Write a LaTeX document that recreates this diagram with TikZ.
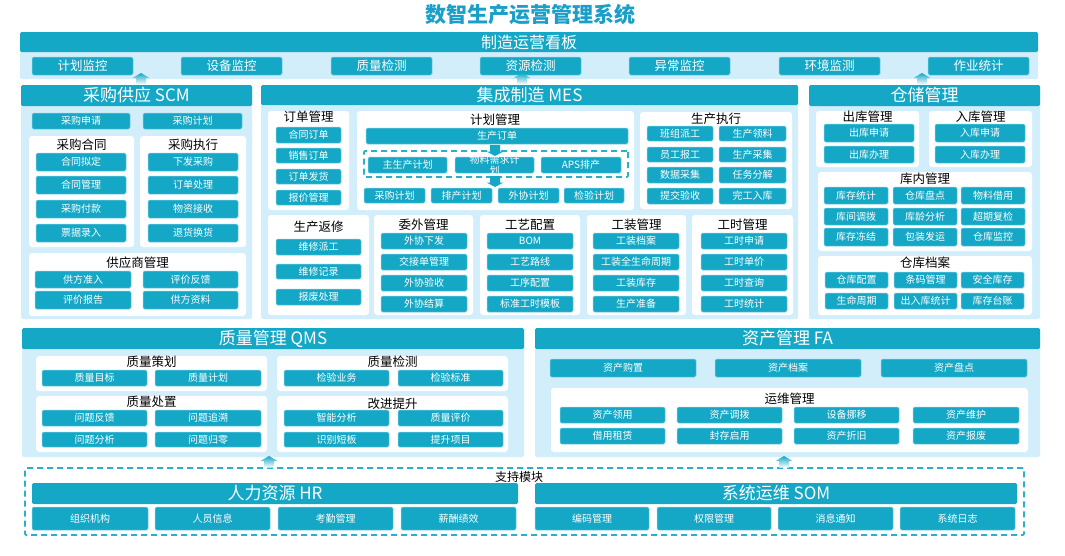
\documentclass[tikz,border=0pt]{standalone}
\usepackage{fontspec}
\setmainfont{Noto Sans CJK SC}
\definecolor{teal1}{HTML}{14A8C6}
\definecolor{lightbg}{HTML}{D3EEFB}
\definecolor{titlec}{HTML}{1B9FC9}
\definecolor{dashc}{HTML}{2BB0CC}
\tikzset{
  btn/.style={fill=teal1, draw=teal1!55!white, line width=0.5pt, rounded corners=1.5pt, text=white, font=\fontsize{10}{11}\selectfont, inner sep=0pt},
  tbtn/.style={btn, font=\fontsize{12.5}{13}\selectfont},
  panel/.style={fill=lightbg, rounded corners=2pt, inner sep=0pt},
  card/.style={fill=white, rounded corners=3pt, inner sep=0pt},
  hdr/.style={fill=teal1, text=white, font=\fontsize{17}{18}\selectfont, inner sep=0pt, rounded corners=1.5pt},
  ttl/.style={font=\fontsize{12.5}{13}\selectfont, text=black, inner sep=0pt},
  dashbox/.style={draw=dashc, line width=1.6pt, dash pattern=on 6pt off 4pt, inner sep=0pt, rounded corners=1pt},
  plain/.style={inner sep=0pt}
}
\newcommand\rbox[7]{\node[#1,minimum width={(#4-#2)*1pt},minimum height={(#5-#3)*1pt}] (#6) at ({(#2+#4)/2},{(#3+#5)/2}) {#7};}
% gradient up arrow: x, tip y
\newcommand\uparr[2]{\shade[top color=teal1,bottom color=white] (#1,#2) -- ++(8.5,5) -- ++(-3.5,0) -- ++(0,6.5) -- ++(-10,0) -- ++(0,-6.5) -- ++(-3.5,0) -- cycle;}
% solid down arrow: x, tip y
\newcommand\downarr[2]{\fill[teal1] (#1,#2) -- ++(8.5,-4.5) -- ++(-3.5,0) -- ++(0,-6.5) -- ++(-10,0) -- ++(0,6.5) -- ++(-3.5,0) -- cycle;}
\begin{document}
\begin{tikzpicture}[x=1pt,y=-1pt]
\useasboundingbox (0,0) rectangle (1065,555);
\fill[white] (0,0) rectangle (1065,555);

% title
\node[font=\fontsize{21}{22}\selectfont\bfseries,text=titlec,inner sep=0pt] (title) at (530,15) {数智生产运营管理系统};

% ===== top board =====
\rbox{panel}{20}{32}{1038}{79}{topP}{}
\rbox{hdr,font=\fontsize{16}{17}\selectfont}{20}{32}{1038}{52}{topH}{制造运营看板}
\rbox{tbtn}{32}{57}{133}{75}{k1}{计划监控}
\rbox{tbtn}{181}{57}{282}{75}{k2}{设备监控}
\rbox{tbtn}{331}{57}{432}{75}{k3}{质量检测}
\rbox{tbtn}{480}{57}{581}{75}{k4}{资源检测}
\rbox{tbtn}{629}{57}{730}{75}{k5}{异常监控}
\rbox{tbtn}{779}{57}{880}{75}{k6}{环境监测}
\rbox{tbtn}{928}{57}{1029}{75}{k7}{作业统计}

% ===== SCM =====
\rbox{panel}{21}{85}{252}{319}{scmP}{}
\rbox{hdr}{21}{85}{252}{106}{scmH}{采购供应 SCM}
\rbox{btn}{32}{113}{130}{129}{s1}{采购申请}
\rbox{btn}{143}{113}{242}{129}{s2}{采购计划}
\rbox{card}{29}{136}{134}{247}{scmC1}{}
\node[ttl] (scmT1) at (81.5,145) {采购合同};
\rbox{btn}{36}{153}{126}{171}{s3}{合同拟定}
\rbox{btn}{36}{176}{126}{194}{s4}{合同管理}
\rbox{btn}{36}{200}{126}{218}{s5}{采购付款}
\rbox{btn}{36}{224}{126}{242}{s6}{票据录入}
\rbox{card}{140}{136}{246}{247}{scmC2}{}
\node[ttl] (scmT2) at (193,145) {采购执行};
\rbox{btn}{148}{153}{238}{171}{s7}{下发采购}
\rbox{btn}{148}{176}{238}{194}{s8}{订单处理}
\rbox{btn}{148}{200}{238}{218}{s9}{物资接收}
\rbox{btn}{148}{224}{238}{242}{s10}{退货换货}
\rbox{card}{29}{253}{246}{316}{scmC3}{}
\node[ttl] (scmT3) at (137.5,263) {供应商管理};
\rbox{btn}{35}{271}{131}{288}{s11}{供方准入}
\rbox{btn}{143}{271}{238}{288}{s12}{评价反馈}
\rbox{btn}{35}{291}{131}{309}{s13}{评价报告}
\rbox{btn}{143}{291}{238}{309}{s14}{供方资料}

% ===== MES =====
\rbox{panel}{261}{85}{798}{319}{mesP}{}
\rbox{hdr}{261}{85}{798}{105}{mesH}{集成制造 MES}
% order
\rbox{card}{268}{111}{349}{210}{mesC1}{}
\node[ttl] (mesT1) at (308.5,117) {订单管理};
\rbox{btn}{276}{127}{341}{143}{m1}{合同订单}
\rbox{btn}{276}{148}{341}{163}{m2}{销售订单}
\rbox{btn}{276}{169}{341}{184}{m3}{订单发货}
\rbox{btn}{276}{190}{341}{205}{m4}{报价管理}
% plan
\rbox{card}{357}{111}{634}{210}{mesC2}{}
\node[ttl] (mesT2) at (495,120) {计划管理};
\rbox{btn}{366}{128}{628}{144}{po}{生产订单}
\rbox{dashbox}{364}{151}{628}{177}{planD}{}
\rbox{btn}{368}{157}{447}{173}{m5}{主生产计划}
\rbox{btn}{455}{157}{534}{173}{m6}{}
\node[plain,text=white,align=center,font=\fontsize{10}{10.5}\selectfont] (m6t) at (m6.center) {物料需求计\\划};
\rbox{btn}{541}{157}{621}{173}{m7}{APS排产}
\downarr{495}{156}
\downarr{495}{187}
\rbox{btn}{364}{188}{425}{203}{m8}{采购计划}
\rbox{btn}{431}{188}{492}{203}{m9}{排产计划}
\rbox{btn}{498}{188}{559}{203}{m10}{外协计划}
\rbox{btn}{564}{188}{624}{203}{m11}{检验计划}
% exec
\rbox{card}{640}{112}{792}{209}{mesC3}{}
\node[ttl] (mesT3) at (716,119) {生产执行};
\rbox{btn}{647}{126}{713}{141}{m12}{班组派工}
\rbox{btn}{719}{126}{786}{141}{m13}{生产领料}
\rbox{btn}{647}{147}{713}{162}{m14}{员工报工}
\rbox{btn}{719}{147}{786}{162}{m15}{生产采集}
\rbox{btn}{647}{167}{713}{183}{m16}{数据采集}
\rbox{btn}{719}{167}{786}{183}{m17}{任务分解}
\rbox{btn}{647}{188}{713}{204}{m18}{提交验收}
\rbox{btn}{719}{188}{786}{204}{m19}{完工入库}
% repair
\rbox{card}{268}{215}{369}{315}{mesC4}{}
\node[ttl] (mesT4) at (318.5,227) {生产返修};
\rbox{btn}{276}{239}{361}{255}{m20}{维修派工}
\rbox{btn}{276}{264}{361}{279}{m21}{维修记录}
\rbox{btn}{276}{289}{361}{305}{m22}{报废处理}
% outsource
\rbox{card}{374}{215}{473}{315}{mesC5}{}
\node[ttl] (mesT5) at (423.5,225) {委外管理};
\rbox{btn}{381}{233}{467}{249}{m23}{外协下发}
\rbox{btn}{381}{254}{467}{270}{m24}{交接单管理}
\rbox{btn}{381}{275}{467}{291}{m25}{外协验收}
\rbox{btn}{381}{296}{467}{312}{m26}{外协结算}
% process
\rbox{card}{480}{215}{580}{315}{mesC6}{}
\node[ttl] (mesT6) at (530,225) {工艺配置};
\rbox{btn}{487}{233}{573}{249}{m27}{BOM}
\rbox{btn}{487}{254}{573}{270}{m28}{工艺路线}
\rbox{btn}{487}{275}{573}{291}{m29}{工序配置}
\rbox{btn}{487}{296}{573}{312}{m30}{标准工时模板}
% tooling
\rbox{card}{587}{215}{686}{315}{mesC7}{}
\node[ttl] (mesT7) at (636.5,225) {工装管理};
\rbox{btn}{593}{233}{679}{249}{m31}{工装档案}
\rbox{btn}{593}{254}{679}{270}{m32}{工装全生命周期}
\rbox{btn}{593}{275}{679}{291}{m33}{工装库存}
\rbox{btn}{593}{296}{679}{312}{m34}{生产准备}
% work hours
\rbox{card}{692}{215}{793}{315}{mesC8}{}
\node[ttl] (mesT8) at (742.5,225) {工时管理};
\rbox{btn}{701}{233}{787}{249}{m35}{工时申请}
\rbox{btn}{701}{254}{787}{270}{m36}{工时单价}
\rbox{btn}{701}{275}{787}{291}{m37}{工时查询}
\rbox{btn}{701}{296}{787}{312}{m38}{工时统计}

% ===== Warehouse =====
\rbox{panel}{809}{85}{1040}{319}{whP}{}
\rbox{hdr}{809}{85}{1040}{106}{whH}{仓储管理}
\rbox{card}{816}{111}{919}{167}{whC1}{}
\node[ttl] (whT1) at (867.5,117) {出库管理};
\rbox{btn}{824}{124}{914}{142}{w1}{出库申请}
\rbox{btn}{824}{146}{914}{163}{w2}{出库办理}
\rbox{card}{929}{111}{1032}{167}{whC2}{}
\node[ttl] (whT2) at (980.5,117) {入库管理};
\rbox{btn}{935}{124}{1025}{142}{w3}{入库申请}
\rbox{btn}{935}{146}{1025}{163}{w4}{入库办理}
\rbox{card}{818}{172}{1032}{251}{whC3}{}
\node[ttl] (whT3) at (925,179) {库内管理};
\rbox{btn}{824}{187}{888}{204}{w5}{库存统计}
\rbox{btn}{893}{187}{957}{204}{w6}{仓库盘点}
\rbox{btn}{961}{187}{1025}{204}{w7}{物料借用}
\rbox{btn}{824}{208}{888}{225}{w8}{库间调拨}
\rbox{btn}{893}{208}{957}{225}{w9}{库龄分析}
\rbox{btn}{961}{208}{1025}{225}{w10}{超期复检}
\rbox{btn}{824}{228}{888}{246}{w11}{库存冻结}
\rbox{btn}{893}{228}{957}{246}{w12}{包装发运}
\rbox{btn}{961}{228}{1025}{246}{w13}{仓库监控}
\rbox{card}{818}{256}{1032}{315}{whC4}{}
\node[ttl] (whT4) at (925,263) {仓库档案};
\rbox{btn}{825}{272}{888}{288}{w14}{仓库配置}
\rbox{btn}{894}{272}{957}{288}{w15}{条码管理}
\rbox{btn}{961}{272}{1024}{288}{w16}{安全库存}
\rbox{btn}{825}{293}{888}{309}{w17}{生命周期}
\rbox{btn}{894}{293}{957}{309}{w18}{出入库统计}
\rbox{btn}{961}{293}{1024}{309}{w19}{库存台账}

% ===== QMS =====
\rbox{panel}{22}{328}{524}{457}{qP}{}
\rbox{hdr}{22}{328}{524}{349}{qH}{质量管理 QMS}
\rbox{card}{36}{356}{267}{391}{qC1}{}
\node[ttl] (qT1) at (151.5,362) {质量策划};
\rbox{btn}{42}{370}{147}{386}{q1}{质量目标}
\rbox{btn}{155}{370}{261}{386}{q2}{质量计划}
\rbox{card}{277}{356}{508}{391}{qC2}{}
\node[ttl] (qT2) at (392.5,362) {质量检测};
\rbox{btn}{284}{370}{389}{386}{q3}{检验业务}
\rbox{btn}{398}{370}{503}{386}{q4}{检验标准}
\rbox{card}{36}{396}{267}{452}{qC3}{}
\node[ttl] (qT3) at (151.5,402) {质量处置};
\rbox{btn}{42}{410}{147}{426}{q5}{问题反馈}
\rbox{btn}{155}{410}{261}{426}{q6}{问题追溯}
\rbox{btn}{42}{432}{147}{447}{q7}{问题分析}
\rbox{btn}{155}{432}{261}{447}{q8}{问题归零}
\rbox{card}{277}{396}{508}{452}{qC4}{}
\node[ttl] (qT4) at (392.5,404) {改进提升};
\rbox{btn}{284}{410}{389}{426}{q9}{智能分析}
\rbox{btn}{398}{410}{503}{426}{q10}{质量评价}
\rbox{btn}{284}{432}{389}{447}{q11}{识别短板}
\rbox{btn}{398}{432}{503}{447}{q12}{提升项目}

% ===== FA =====
\rbox{panel}{535}{328}{1040}{457}{fP}{}
\rbox{hdr}{535}{328}{1040}{349}{fH}{资产管理 FA}
\rbox{btn}{550}{359}{696}{377}{f1}{资产购置}
\rbox{btn}{715}{359}{861}{377}{f2}{资产档案}
\rbox{btn}{881}{359}{1027}{377}{f3}{资产盘点}
\rbox{card}{551}{388}{1028}{452}{fC1}{}
\node[ttl] (fT1) at (789.5,399) {运维管理};
\rbox{btn}{560}{407}{665}{423}{f4}{资产领用}
\rbox{btn}{677}{407}{782}{423}{f5}{资产调拨}
\rbox{btn}{794}{407}{899}{423}{f6}{设备挪移}
\rbox{btn}{913}{407}{1019}{423}{f7}{资产维护}
\rbox{btn}{560}{428}{665}{444}{f8}{借用租赁}
\rbox{btn}{677}{428}{782}{444}{f9}{封存启用}
\rbox{btn}{794}{428}{899}{444}{f10}{资产折旧}
\rbox{btn}{913}{428}{1019}{444}{f11}{资产报废}

% ===== support =====
\rbox{dashbox}{25}{468}{1024}{535}{supD}{}
\node[ttl,font=\fontsize{12}{13}\selectfont] (supT) at (519,477) {支持模块};
\rbox{hdr}{32}{483}{518}{504}{hrH}{人力资源 HR}
\rbox{btn}{32}{507}{148}{530}{h1}{组织机构}
\rbox{btn}{155}{507}{270}{530}{h2}{人员信息}
\rbox{btn}{278}{507}{393}{530}{h3}{考勤管理}
\rbox{btn}{401}{507}{516}{530}{h4}{薪酬绩效}
\rbox{hdr}{535}{483}{1017}{504}{somH}{系统运维 SOM}
\rbox{btn}{535}{507}{649}{530}{o1}{编码管理}
\rbox{btn}{657}{507}{771}{530}{o2}{权限管理}
\rbox{btn}{778}{507}{893}{530}{o3}{消息通知}
\rbox{btn}{900}{507}{1015}{530}{o4}{系统日志}

% ===== arrows between layers =====
\uparr{141}{73}
\uparr{522}{73}
\uparr{922}{73}
\uparr{269}{456}
\uparr{784}{456}
\end{tikzpicture}
\end{document}
